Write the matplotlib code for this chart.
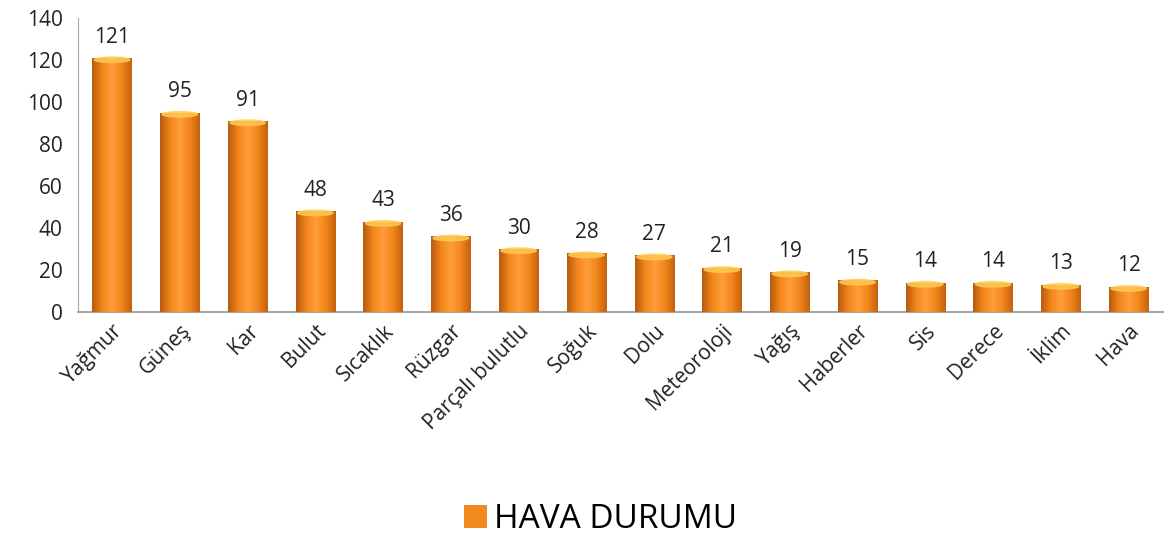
import numpy as np
import matplotlib.pyplot as plt
from matplotlib.colors import LinearSegmentedColormap
from matplotlib.patches import Ellipse

plt.rcParams['font.family'] = ['Open Sans', 'DejaVu Sans']

categories = ["Yağmur", "Güneş", "Kar", "Bulut", "Sıcaklık", "Rüzgar", "Parçalı bulutlu",
              "Soğuk", "Dolu", "Meteoroloji", "Yağış", "Haberler", "Sis", "Derece", "İklim", "Hava"]
values = [121, 95, 91, 48, 43, 36, 30, 28, 27, 21, 19, 15, 14, 14, 13, 12]
series_name = "HAVA DURUMU"

fig = plt.figure(figsize=(11.66, 5.36), dpi=100)
ax = fig.add_axes([0.067, 0.418, 0.93, 0.548])

x = np.arange(len(categories))
bars = ax.bar(x, values, width=0.58, color="#F08A1E", edgecolor="none", label=series_name, zorder=2)

# horizontal gradient to mimic the cylinder shading
cmap = LinearSegmentedColormap.from_list("bar", ["#B85A10", "#F3861A", "#FF9E3A", "#F3861A", "#C4620F"])
grad = np.linspace(0, 1, 64).reshape(1, -1)
for b in bars:
    x0, w, h = b.get_x(), b.get_width(), b.get_height()
    im = ax.imshow(grad, cmap=cmap, aspect="auto", extent=[x0, x0 + w, 0, h], zorder=3)
    im.set_clip_path(b)
    cap = Ellipse((x0 + w / 2, h - 0.8), w * 0.9, 2.6, color="#FFCC55", alpha=0.8, zorder=4)
    ax.add_patch(cap)
    ax.text(x0 + w / 2, h + 5, str(int(h)), ha="center", va="bottom", fontsize=15, color="#222222")

ax.set_xlim(-0.5, len(categories) - 0.5)
ax.set_ylim(0, 140)
ax.set_yticks(range(0, 141, 20))
ax.set_xticks(x)
ax.set_xticklabels(categories, rotation=45, ha="right", rotation_mode="anchor", fontsize=15, color="#222222")
ax.tick_params(axis="y", labelsize=15, length=0, pad=11, labelcolor="#222222")
ax.tick_params(axis="x", length=0, pad=6)
for s in ["top", "right"]:
    ax.spines[s].set_visible(False)
ax.spines["left"].set_color("#A6A6A6")
ax.spines["bottom"].set_color("#A6A6A6")
ax.spines["bottom"].set_linewidth(1.5)

fig.legend(handles=[bars], labels=[series_name], loc="center", bbox_to_anchor=(0.515, 0.03),
           frameon=False, fontsize=24, handlelength=0.7, handleheight=0.7, handletextpad=0.2)

fig.savefig("out.png", dpi=100)
